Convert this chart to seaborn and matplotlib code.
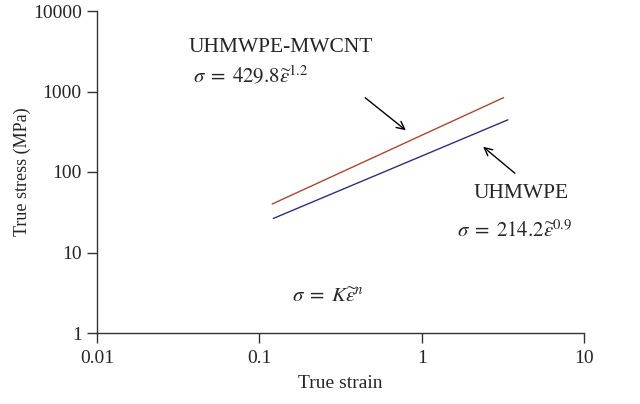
import numpy as np
import pandas as pd
import matplotlib
matplotlib.use("Agg")
import matplotlib.pyplot as plt
import seaborn as sns

# values (log-log, straight power-law fits)
strain_mwcnt = [0.12, 3.2]
stress_mwcnt = [40, 840]
strain_pe = [0.122, 3.4]
stress_pe = [26.5, 445]

sns.set_style("white")
plt.rcParams['font.family'] = ['Liberation Serif', 'DejaVu Serif']
plt.rcParams['mathtext.fontset'] = 'stix'

df = pd.concat([
    pd.DataFrame({'strain': strain_mwcnt, 'stress': stress_mwcnt, 'material': 'UHMWPE-MWCNT'}),
    pd.DataFrame({'strain': strain_pe, 'stress': stress_pe, 'material': 'UHMWPE'}),
])

fig = plt.figure(figsize=(6.4, 4.04), dpi=100)
ax = fig.add_axes([97/640, 71/404, 487/640, 322/404])

sns.lineplot(data=df, x='strain', y='stress', hue='material',
             palette={'UHMWPE-MWCNT': '#B0452F', 'UHMWPE': '#2E2E86'},
             linewidth=1.0, legend=False, ax=ax)

ax.set_xscale('log')
ax.set_yscale('log')
ax.set_xlim(0.01, 10)
ax.set_ylim(1, 10000)
ax.set_xticks([0.01, 0.1, 1, 10])
ax.set_xticklabels(['0.01', '0.1', '1', '10'])
ax.set_yticks([1, 10, 100, 1000, 10000])
ax.set_yticklabels(['1', '10', '100', '1000', '10000'])
ax.minorticks_off()
ax.tick_params(axis='both', bottom=True, left=True, direction='out', length=7, width=1,
               labelsize=14, color='#333333', pad=4)
ax.tick_params(axis='x', pad=5)

for s in ['top', 'right']:
    ax.spines[s].set_visible(False)
for s in ['left', 'bottom']:
    ax.spines[s].set_color('#333333')
    ax.spines[s].set_linewidth(1.0)

ax.set_xlabel('True strain', fontsize=14, labelpad=6)
ax.set_ylabel('True stress (MPa)', fontsize=13, labelpad=1)

# annotations in axes coordinates
def fx(px):
    return (px - 97) / 487
def fy(py):
    return (333 - py) / 322

ax.text(fx(281), fy(47), 'UHMWPE-MWCNT', transform=ax.transAxes, ha='center', va='center', fontsize=15.5)
ax.text(fx(193), fy(76), r'$\sigma\;=\;429.8\widetilde{\varepsilon}^{1.2}$', transform=ax.transAxes,
        ha='left', va='center', fontsize=15)
ax.text(fx(521), fy(193), 'UHMWPE', transform=ax.transAxes, ha='center', va='center', fontsize=15.5)
ax.text(fx(457), fy(231), r'$\sigma\;=\;214.2\widetilde{\varepsilon}^{0.9}$', transform=ax.transAxes,
        ha='left', va='center', fontsize=15)
ax.text(fx(292), fy(298), r'$\sigma\;=\;K\widetilde{\varepsilon}^{n}$', transform=ax.transAxes,
        ha='left', va='center', fontsize=15)

ax.annotate('', xy=(fx(408), fy(132)), xytext=(fx(363), fy(96)),
            xycoords='axes fraction', textcoords='axes fraction',
            arrowprops=dict(arrowstyle='->', color='black', lw=1.0, mutation_scale=14))
ax.annotate('', xy=(fx(481), fy(145)), xytext=(fx(517), fy(175)),
            xycoords='axes fraction', textcoords='axes fraction',
            arrowprops=dict(arrowstyle='->', color='black', lw=1.0, mutation_scale=14))

fig.savefig('out.png', dpi=100)
